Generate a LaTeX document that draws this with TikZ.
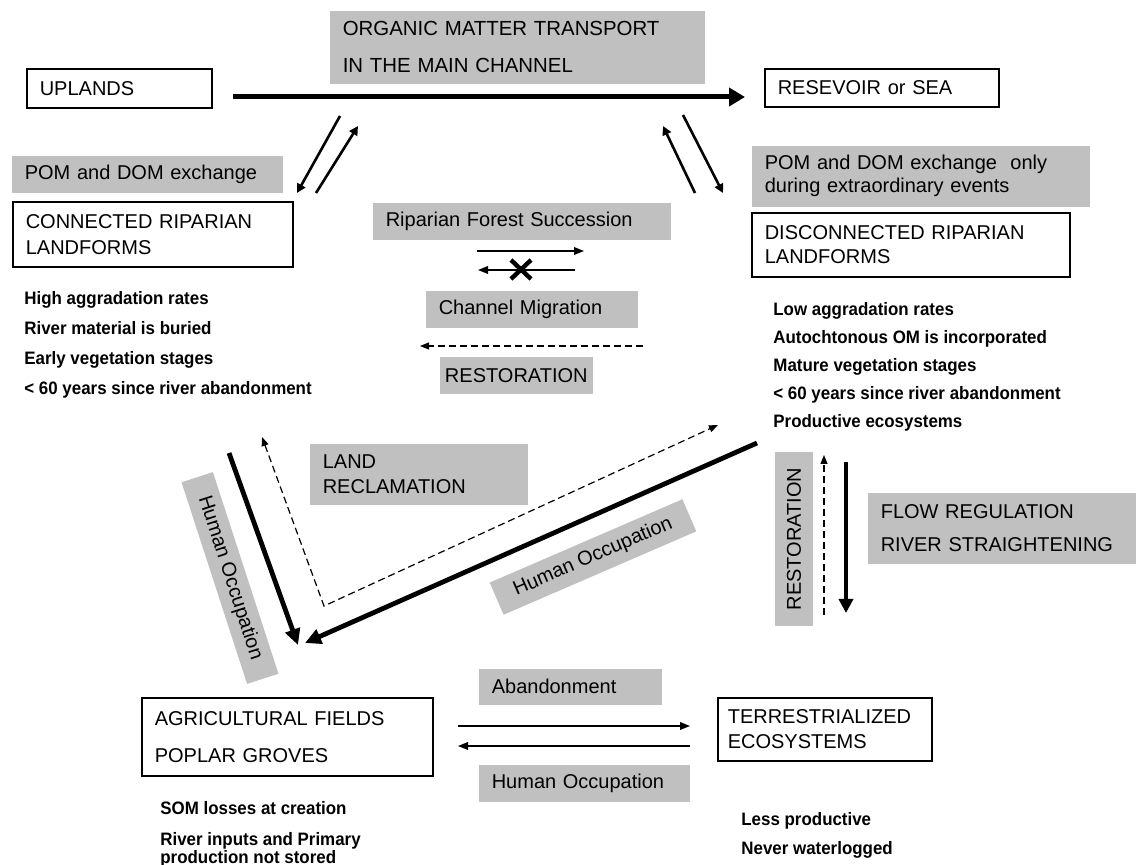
\documentclass[tikz,border=0pt]{standalone}
\usepackage{fontspec}
\setmainfont{Liberation Sans}
\newfontfamily\factfont[FakeStretch=0.94]{Liberation Sans}
\usetikzlibrary{arrows.meta}
\definecolor{boxgray}{RGB}{192,192,192}

\begin{document}
\begin{tikzpicture}[x=0.5pt, y=-0.5pt,
    wbox/.style={draw, line width=0.8pt, anchor=north west, align=left,
      inner xsep=6.5pt, inner ysep=0pt, font=\fontsize{10}{12}\selectfont},
    gbox/.style={wbox, draw=none, fill=boxgray},
    tag/.style={fill=boxgray, inner sep=0pt, font=\fontsize{10}{12}\selectfont},
    facts/.style={anchor=north west, align=left, inner sep=0pt,
      font=\factfont\bfseries\fontsize{9}{15}\selectfont},
    mainarrow/.style={line width=2.5pt, -{Triangle[length=8pt, width=9pt]}},
    exch/.style={line width=1.3pt, -{Triangle[length=4.5pt, width=4.5pt]}},
    slim/.style={line width=0.75pt, -{Triangle[length=5pt, width=3.8pt]}},
    dasharrow/.style={line width=0.6pt, dash pattern=on 3.5pt off 2pt,
      -{Triangle[length=4.5pt, width=3.5pt]}},
    heavy/.style={line width=2.4pt, -{Triangle[length=8pt, width=7.5pt]}}]
  \useasboundingbox (0,0) rectangle (1136,865);

  % main channel
  \node[gbox, text width=174.5pt, minimum height=36.5pt,
    font=\fontsize{10.2}{18.5}\selectfont] (organic) at (329,10)
    {ORGANIC MATTER TRANSPORT\\IN THE MAIN CHANNEL};
  \node[wbox, text width=79.5pt, minimum height=19.5pt] (uplands) at (26,68) {UPLANDS};
  \node[wbox, text width=104pt, minimum height=19pt] (sea) at (764,68) {RESEVOIR or SEA};
  \coordinate (mainS) at (233,97);
  \coordinate (mainE) at (745,97);
  \draw[mainarrow] (mainS) -- (mainE);

  % exchange with the channel
  \coordinate (lx1) at (340,116); \coordinate (lx2) at (297,193);
  \coordinate (lx3) at (316,193); \coordinate (lx4) at (358,126);
  \coordinate (rx1) at (695,193); \coordinate (rx2) at (663,126);
  \coordinate (rx3) at (683,115); \coordinate (rx4) at (723,193);
  \foreach \a/\b in {lx1/lx2, lx3/lx4, rx1/rx2, rx3/rx4}
    \draw[exch] (\a) -- (\b);

  % riparian landforms
  \node[gbox, text width=122.5pt, minimum height=18.5pt] (pomL) at (11,155) {POM and DOM exchange};
  \node[wbox, text width=127pt, minimum height=32.5pt,
    font=\fontsize{10}{13}\selectfont] (conL) at (12,201) {CONNECTED RIPARIAN\\LANDFORMS};
  \node[facts] (conFacts) at (24,291) {High aggradation rates\\River material is buried\\
    Early vegetation stages\\\textless{} 60 years since river abandonment};

  \node[gbox, text width=156pt, minimum height=30.5pt,
    font=\fontsize{10}{11.5}\selectfont] (pomR) at (751,145)
    {POM and DOM exchange\ \ only\\during extraordinary events};
  \node[wbox, text width=146pt, minimum height=32pt,
    font=\fontsize{10}{12}\selectfont] (disR) at (751,212) {DISCONNECTED RIPARIAN\\LANDFORMS};
  \node[facts, font=\factfont\bfseries\fontsize{9}{14}\selectfont] (disFacts) at (773,302)
    {Low aggradation rates\\Autochtonous OM is incorporated\\Mature vegetation stages\\
    \textless{} 60 years since river abandonment\\Productive ecosystems};

  % succession and migration
  \node[gbox, text width=136pt, minimum height=18.5pt] (succ) at (372,202) {Riparian Forest Succession};
  \coordinate (succS) at (477,251); \coordinate (succE) at (584,251);
  \coordinate (migS) at (575,270); \coordinate (migE) at (478,270);
  \draw[slim] (succS) -- (succE);
  \draw[slim] (migS) -- (migE);
  \draw[line width=2.2pt] (511,260) -- (531,279) (511,279) -- (531,260);
  \node[gbox, text width=93pt, minimum height=18.5pt] (mig) at (425,290) {Channel Migration};
  \coordinate (restS) at (643,346); \coordinate (restE) at (420,346);
  \draw[dasharrow] (restS) -- (restE);
  \node[gbox, inner xsep=0pt, text width=76.5pt, align=center,
    minimum height=18.5pt] (restC) at (439,356) {RESTORATION};

  % human occupation and land reclamation
  \node[gbox, text width=96pt, minimum height=30.5pt,
    font=\fontsize{10}{12.5}\selectfont] (land) at (309,443) {LAND\\RECLAMATION};
  \node[tag, rotate=-72, minimum width=106pt, minimum height=16.5pt] (occL) at (230,578) {Human Occupation};
  \node[tag, rotate=23.4, minimum width=105pt, minimum height=17.5pt] (occM) at (593,557) {Human Occupation};
  \coordinate (occLS) at (229,453); \coordinate (occLE) at (298,645);
  \coordinate (occMS) at (757,443); \coordinate (occME) at (305,643);
  \draw[heavy] (occLS) -- (occLE);
  \draw[heavy] (occMS) -- (occME);
  \coordinate (landA) at (262,437);
  \coordinate (landC) at (324,606);
  \coordinate (landB) at (718,425);
  \draw[dasharrow, {Triangle[length=4.5pt, width=3.5pt]}-{Triangle[length=4.5pt, width=3.5pt]}]
    (landA) -- (landC) -- (landB);

  % flow regulation
  \node[tag, rotate=90, minimum width=87pt, minimum height=19pt] (restV) at (794,539) {RESTORATION};
  \coordinate (restVS) at (824,615); \coordinate (restVE) at (824,455);
  \draw[dasharrow] (restVS) -- (restVE);
  \coordinate (flowS) at (846,462); \coordinate (flowE) at (846,613);
  \draw[line width=2pt, -{Triangle[length=7pt, width=7pt]}] (flowS) -- (flowE);
  \node[gbox, text width=121.5pt, minimum height=35.5pt,
    font=\fontsize{10}{16.5}\selectfont] (flowreg) at (867,492)
    {FLOW REGULATION\\RIVER STRAIGHTENING};

  % agriculture and terrestrialization
  \node[wbox, text width=132.5pt, minimum height=39pt,
    font=\fontsize{10}{18.5}\selectfont] (agri) at (141,697) {AGRICULTURAL FIELDS\\POPLAR GROVES};
  \node[facts, font=\factfont\bfseries\fontsize{9}{9}\selectfont] (agriFacts) at (160,801)
    {SOM losses at creation\\[6.5pt]River inputs and Primary\\production not stored};
  \node[gbox, text width=78.5pt, minimum height=18pt] (aband) at (478,668) {Abandonment};
  \node[gbox, text width=92.5pt, minimum height=18.5pt] (occB) at (478,764) {Human Occupation};
  \coordinate (abS) at (458,726); \coordinate (abE) at (690,726);
  \coordinate (hoS) at (690,746); \coordinate (hoE) at (458,746);
  \draw[slim] (abS) -- (abE);
  \draw[slim] (hoS) -- (hoE);
  \node[wbox, inner xsep=5pt, text width=97pt, minimum height=31.5pt,
    font=\fontsize{10}{12.5}\selectfont] (terr) at (717,697) {TERRESTRIALIZED\\ECOSYSTEMS};
  \node[facts, font=\factfont\bfseries\fontsize{9}{14.5}\selectfont] (terrFacts) at (741,812)
    {Less productive\\Never waterlogged};
\end{tikzpicture}
\end{document}
